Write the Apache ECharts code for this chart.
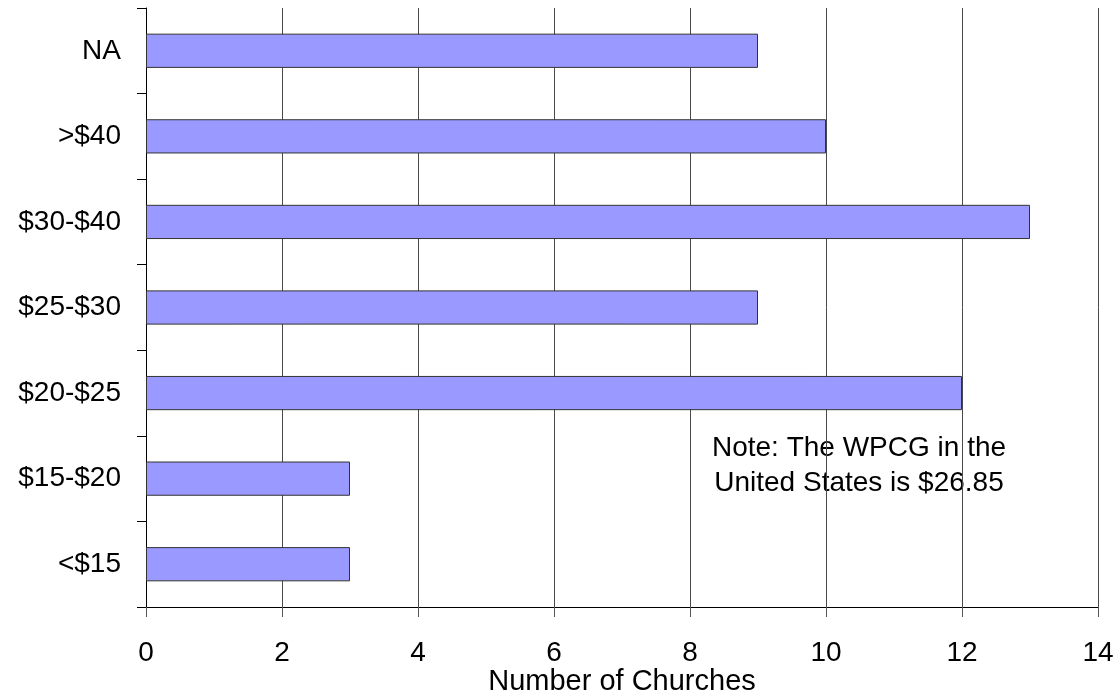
<!DOCTYPE html>
<html>
<head>
<meta charset="utf-8">
<script src="https://cdn.jsdelivr.net/npm/echarts@6/dist/echarts.min.js"></script>
<style>
  html, body { margin: 0; padding: 0; background: #fff; }
  #chart { width: 1117px; height: 694px; }
</style>
</head>
<body>
<div id="chart"></div>
<script>
// Weekly per-capita giving brackets, listed bottom to top
var categories = ['<$15', '$15-$20', '$20-$25', '$25-$30', '$30-$40', '>$40', 'NA'];
var churchCounts = [3, 3, 12, 9, 13, 10, 9];
var noteLines = ['Note: The WPCG in the', 'United States is $26.85'];

var font = 'Liberation Sans, Arial, sans-serif';
var chart = echarts.init(document.getElementById('chart'));

chart.setOption({
  animation: false,
  backgroundColor: '#ffffff',
  grid: {
    left: 146, right: 19, top: 8, bottom: 87,
    containLabel: false,
    outerBoundsMode: 'none'
  },
  xAxis: {
    type: 'value',
    min: 0,
    max: 14,
    interval: 2,
    name: 'Number of Churches',
    nameLocation: 'middle',
    nameGap: 60,
    nameMoveOverlap: false,
    nameTextStyle: { fontFamily: font, fontSize: 29, color: '#000' },
    axisLine: { show: true, lineStyle: { color: '#000', width: 1 } },
    axisTick: { show: true, length: 10, lineStyle: { color: '#555' } },
    axisLabel: { fontFamily: font, fontSize: 28, color: '#000', margin: 32 },
    splitLine: { show: true, lineStyle: { color: '#4a4a4a', width: 1 } }
  },
  yAxis: {
    type: 'category',
    data: categories,
    axisLine: { show: true, onZero: false, lineStyle: { color: '#000', width: 1 } },
    axisTick: { show: true, length: 9, lineStyle: { color: '#000' } },
    axisLabel: { fontFamily: font, fontSize: 28, color: '#000', margin: 25 },
    splitLine: { show: false }
  },
  series: [{
    type: 'bar',
    data: churchCounts,
    barWidth: '40%',
    itemStyle: { color: '#9999FF', borderColor: '#333', borderWidth: 1 }
  }],
  graphic: noteLines.map(function (line, i) {
    return {
      type: 'text',
      x: 859,
      y: 448 + i * 35,
      style: {
        text: line,
        align: 'center',
        verticalAlign: 'middle',
        fontFamily: font,
        fontSize: 28,
        fill: '#000'
      }
    };
  })
});
</script>
</body>
</html>
